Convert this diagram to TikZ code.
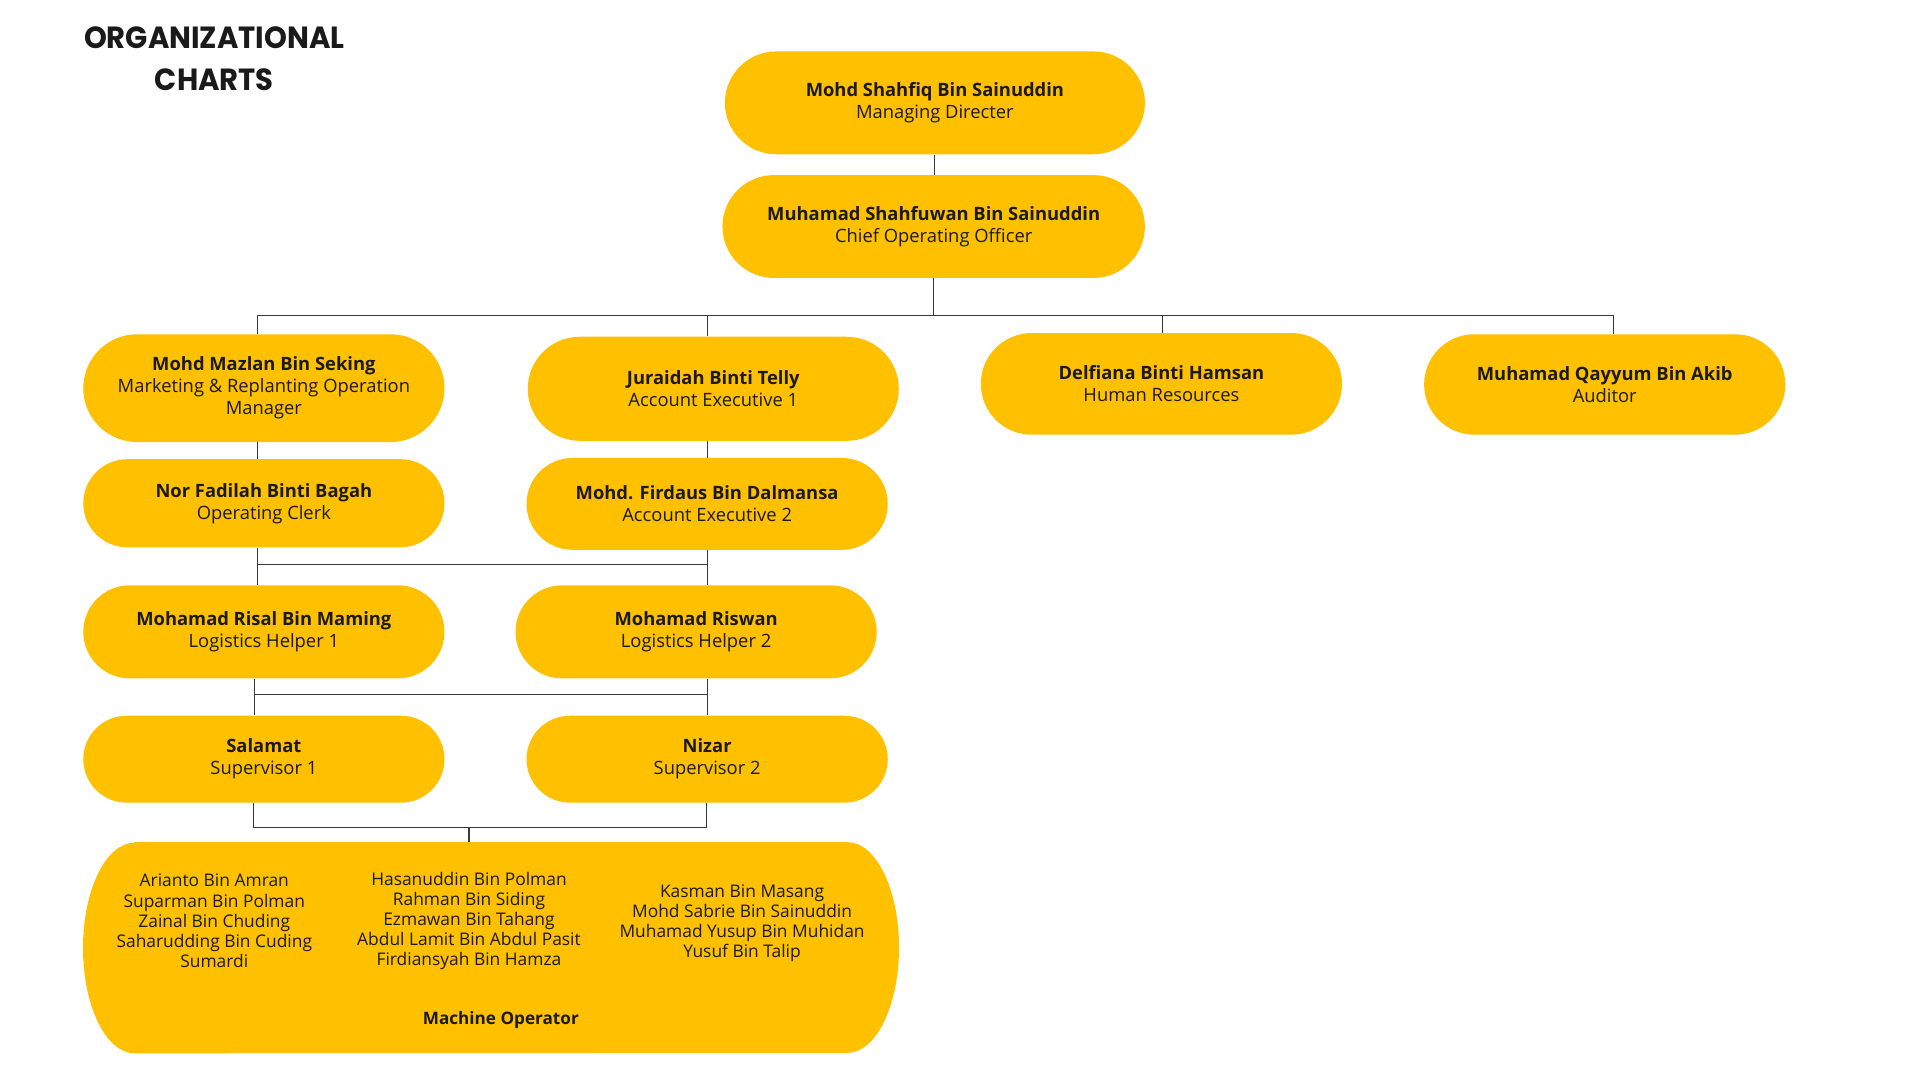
\documentclass[tikz,border=0pt]{standalone}
\usepackage{fontspec}
\setmainfont{Open Sans}
\newfontfamily\titlefont{Poppins}
\usetikzlibrary{shapes.misc}
\definecolor{pill}{HTML}{FFC000}
\definecolor{ink}{HTML}{1A1A1A}
\definecolor{wire}{HTML}{3A3A3A}
\begin{document}
\begin{tikzpicture}[x=1pt,y=-1pt,
  pillbox/.style={rounded rectangle, fill=pill, draw=none, inner sep=0pt, align=center,
    font=\fontsize{15}{18}\selectfont, text=ink},
  listtext/.style={align=center, inner sep=0pt, font=\fontsize{14.2}{16.4}\selectfont, text=ink},
  wireline/.style={draw=wire, line width=0.9pt}]
\useasboundingbox[fill=white] (0,0) rectangle (1568,882);
% title
\node[align=center, inner sep=0pt, text=ink, font=\titlefont\bfseries\fontsize{25}{34}\selectfont, xscale=0.95] (title) at (175,48) {ORGANIZATIONAL\\CHARTS};
% nodes
\node[pillbox, minimum width=343, minimum height=84] (md) at (763.5,84) {\textbf{Mohd Shahfiq Bin Sainuddin}\\Managing Directer};
\node[pillbox, minimum width=345, minimum height=84] (coo) at (762.5,185) {\textbf{Muhamad Shahfuwan Bin Sainuddin}\\Chief Operating Officer};
\node[pillbox, minimum width=295, minimum height=88] (mazlan) at (215.5,317) {\textbf{Mohd Mazlan Bin Seking}\\Marketing \& Replanting Operation\\Manager};
\node[pillbox, minimum width=303, minimum height=85] (juraidah) at (582.5,317.5) {\textbf{Juraidah Binti Telly}\\Account Executive 1};
\node[pillbox, minimum width=295, minimum height=83] (delfiana) at (948.5,313.5) {\textbf{Delfiana Binti Hamsan}\\Human Resources};
\node[pillbox, minimum width=295, minimum height=82] (qayyum) at (1310.5,314) {\textbf{Muhamad Qayyum Bin Akib}\\Auditor};
\node[pillbox, minimum width=295, minimum height=72] (fadilah) at (215.5,411) {\textbf{Nor Fadilah Binti Bagah}\\Operating Clerk};
\node[pillbox, minimum width=295, minimum height=75] (firdaus) at (577.5,411.5) {\textbf{Mohd. Firdaus Bin Dalmansa}\\Account Executive 2};
\node[pillbox, minimum width=295, minimum height=76] (risal) at (215.5,516) {\textbf{Mohamad Risal Bin Maming}\\Logistics Helper 1};
\node[pillbox, minimum width=295, minimum height=76] (riswan) at (568.5,516) {\textbf{Mohamad Riswan}\\Logistics Helper 2};
\node[pillbox, minimum width=295, minimum height=71] (salamat) at (215.5,620) {\textbf{Salamat}\\Supervisor 1};
\node[pillbox, minimum width=295, minimum height=71] (nizar) at (577.5,620) {\textbf{Nizar}\\Supervisor 2};
% machine operator box
\node[inner sep=0pt, minimum width=666, minimum height=172] (mo) at (401,774) {};
\fill[pill] ([xshift=42pt]mo.north west) -- ([xshift=-42pt]mo.north east)
  arc[start angle=90, end angle=-90, x radius=42pt, y radius=86pt]
  -- ([xshift=42pt]mo.south west)
  arc[start angle=270, end angle=90, x radius=42pt, y radius=86pt] -- cycle;
\node[listtext] (mo1) at (175,752) {Arianto Bin Amran\\Suparman Bin Polman\\Zainal Bin Chuding\\Saharudding Bin Cuding\\Sumardi};
\node[listtext] (mo2) at (383,752) {Hasanuddin Bin Polman\\Rahman Bin Siding\\Ezmawan Bin Tahang\\Abdul Lamit Bin Abdul Pasit\\Firdiansyah Bin Hamza};
\node[listtext] (mo3) at (606,754) {Kasman Bin Masang\\Mohd Sabrie Bin Sainuddin\\Muhamad Yusup Bin Muhidan\\Yusuf Bin Talip};
\node[listtext, font=\fontsize{14}{16.4}\selectfont\bfseries] (molabel) at (409,833) {Machine Operator};
% connector guide coordinates
\coordinate (xA) at (210,0);
\coordinate (xB) at (578,0);
\coordinate (xC) at (949,0);
\coordinate (xD) at (1318,0);
\coordinate (xE) at (208,0);
\coordinate (xF) at (207,0);
\coordinate (xG) at (577,0);
\coordinate (xH) at (383,0);
\coordinate (yA) at (0,258);
\coordinate (yB) at (0,461);
\coordinate (yC) at (0,567);
\coordinate (yD) at (0,676);
% connectors
\draw[wireline] (md.south) -- (md.south |- coo.north);
\draw[wireline] (coo.south) -- (coo.south |- yA);
\draw[wireline] (mazlan.north -| xA) -- (xA |- yA) -- (xD |- yA) -- (qayyum.north -| xD);
\draw[wireline] (juraidah.north -| xB) -- (xB |- yA);
\draw[wireline] (delfiana.north -| xC) -- (xC |- yA);
\draw[wireline] (mazlan.south -| xA) -- (fadilah.north -| xA);
\draw[wireline] (juraidah.south -| xB) -- (firdaus.north -| xB);
\draw[wireline] (fadilah.south -| xA) -- (risal.north -| xA);
\draw[wireline] (firdaus.south -| xB) -- (riswan.north -| xB);
\draw[wireline] (xA |- yB) -- (xB |- yB);
\draw[wireline] (risal.south -| xE) -- (salamat.north -| xE);
\draw[wireline] (riswan.south -| xB) -- (nizar.north -| xB);
\draw[wireline] (xE |- yC) -- (xB |- yC);
\draw[wireline] (salamat.south -| xF) -- (xF |- yD) -- (xG |- yD) -- (nizar.south -| xG);
\draw[wireline] (xH |- yD) -- (mo.north -| xH);
\end{tikzpicture}
\end{document}
